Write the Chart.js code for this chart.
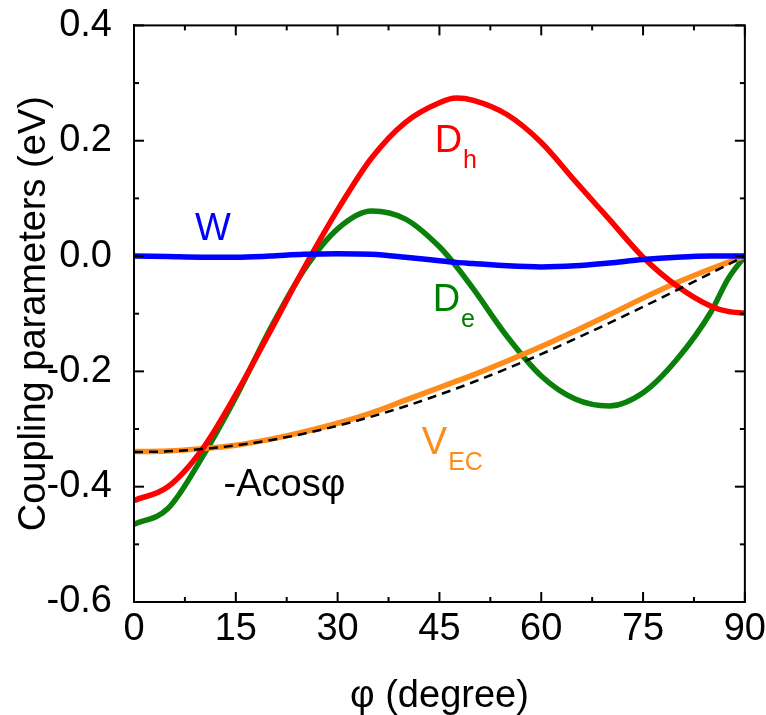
<!DOCTYPE html>
<html>
<head>
<meta charset="utf-8">
<script src="https://cdn.jsdelivr.net/npm/chart.js@4"></script>
<style>
  html, body { margin: 0; padding: 0; background: #fff; }
  #wrap { width: 766px; height: 715px; position: relative; }
</style>
</head>
<body>
<div id="wrap"><canvas id="c"></canvas></div>
<script>
// angle phi in degrees
const angles = [0, 5, 10, 15, 20, 25, 30, 35, 40, 45, 47.5, 50, 55, 60, 65, 70, 75, 80, 85, 87.5, 90];
const dh   = [-0.424, -0.400, -0.336, -0.24, -0.132, -0.022, 0.08, 0.17, 0.232, 0.266, 0.274, 0.270, 0.245, 0.197, 0.13, 0.064, -0.002, -0.052, -0.087, -0.096, -0.099];
const de   = [-0.465, -0.438, -0.35, -0.245, -0.128, -0.025, 0.047, 0.078, 0.064, 0.016, -0.018, -0.057, -0.14, -0.208, -0.248, -0.26, -0.237, -0.179, -0.097, -0.04, 0];
const w    = [0, -0.001, -0.002, -0.002, 0, 0.003, 0.004, 0.003, -0.002, -0.008, -0.011, -0.013, -0.017, -0.019, -0.017, -0.012, -0.006, -0.002, 0, 0, 0];
const vec  = [-0.339, -0.338, -0.334, -0.328, -0.318, -0.305, -0.290, -0.272, -0.250, -0.228, -0.217, -0.206, -0.182, -0.157, -0.130, -0.102, -0.073, -0.046, -0.022, -0.011, 0];
const acos = [-0.340, -0.3387, -0.3348, -0.3284, -0.3195, -0.3081, -0.2944, -0.2785, -0.2605, -0.2404, -0.2297, -0.2185, -0.1950, -0.1700, -0.1437, -0.1163, -0.0880, -0.0590, -0.0296, -0.0148, 0];

const FONT = '"Liberation Sans", Arial, sans-serif';
Chart.defaults.font.family = FONT;
Chart.defaults.color = '#000';

function pts(vals) {
    return angles.map((a, i) => ({x: a, y: vals[i]}));
}

function line(label, vals, color, order, dash) {
    return {
        label: label,
        data: pts(vals),
        showLine: true,
        borderColor: color,
        backgroundColor: color,
        borderWidth: dash ? 2.5 : 5.5,
        borderDash: dash || [],
        pointRadius: 0,
        cubicInterpolationMode: 'monotone',
        order: order
    };
}

// inward ticks on all four sides + closed frame
const frame = {
    id: 'frame',
    afterDraw(chart) {
        const {ctx, chartArea: a, scales: {x, y}} = chart;
        ctx.save();
        ctx.strokeStyle = '#000';
        ctx.lineWidth = 2;
        ctx.strokeRect(a.left, a.top, a.right - a.left, a.bottom - a.top);
        const seg = (x1, y1, x2, y2) => { ctx.beginPath(); ctx.moveTo(x1, y1); ctx.lineTo(x2, y2); ctx.stroke(); };
        for (let v = 0; v <= 90; v += 7.5) {
            const px = x.getPixelForValue(v);
            const len = v % 15 === 0 ? 10 : 5;
            seg(px, a.bottom, px, a.bottom - len);
            seg(px, a.top, px, a.top + len);
        }
        for (let k = -6; k <= 4; k++) {
            const py = y.getPixelForValue(k / 10);
            const len = k % 2 === 0 ? 10 : 5;
            seg(a.left, py, a.left + len, py);
            seg(a.right, py, a.right - len, py);
        }
        ctx.restore();
    }
};

// curve names written next to the curves
const curveLabels = {
    id: 'curveLabels',
    afterDatasetsDraw(chart) {
        const {ctx, scales: {x, y}} = chart;
        const put = (txt, sub, ax, ay, color) => {
            const px = x.getPixelForValue(ax);
            const py = y.getPixelForValue(ay);
            ctx.save();
            ctx.fillStyle = color;
            ctx.textBaseline = 'alphabetic';
            ctx.textAlign = 'left';
            ctx.font = '38px ' + FONT;
            ctx.fillText(txt, px, py);
            if (sub) {
                const wd = ctx.measureText(txt).width;
                ctx.font = '25px ' + FONT;
                ctx.fillText(sub, px + wd + 1, py + 16);
            }
            ctx.restore();
        };
        put('W', null, 9.0, 0.028, '#0000ff');
        put('D', 'h', 44.3, 0.181, '#ff0000');
        put('D', 'e', 44.0, -0.096, '#008000');
        put('V', 'EC', 42.4, -0.344, '#ff8c1a');
        put('-Acos\u03c6', null, 13.2, -0.417, '#000');
    }
};

new Chart(document.getElementById('c'), {
    type: 'scatter',
    data: {
        datasets: [
            line('-Acos\u03c6', acos, '#000000', 0, [9, 6]),
            line('W', w, '#0000ff', 1),
            line('Dh', dh, '#ff0000', 2),
            line('VEC', vec, '#ff8c1a', 3),
            line('De', de, '#0a800a', 4)
        ]
    },
    options: {
        responsive: true,
        maintainAspectRatio: false,
        animation: false,
        layout: {padding: {top: 10, right: 21, bottom: 0, left: 0}},
        plugins: {legend: {display: false}, tooltip: {enabled: false}},
        scales: {
            x: {
                type: 'linear', min: 0, max: 90,
                grid: {display: false},
                border: {display: true, color: '#000', width: 2},
                ticks: {stepSize: 15, font: {size: 38, lineHeight: 1.05}, padding: 0, maxRotation: 0},
                title: {display: true, text: '\u03c6 (degree)', font: {size: 38, lineHeight: 0.8}, padding: {top: 0, bottom: 3}},
                afterFit(s) { s.height = 113; }
            },
            y: {
                type: 'linear', min: -0.6, max: 0.4,
                grid: {display: false},
                border: {display: true, color: '#000', width: 2},
                ticks: {stepSize: 0.2, font: {size: 38, lineHeight: 0.6}, padding: 14, callback: v => v.toFixed(1)},
                title: {display: true, text: 'Coupling parameters (eV)', font: {size: 38}, padding: {top: 12, bottom: 0}},
                afterFit(s) { s.width = 134; }
            }
        }
    },
    plugins: [frame, curveLabels]
});
</script>
</body>
</html>
